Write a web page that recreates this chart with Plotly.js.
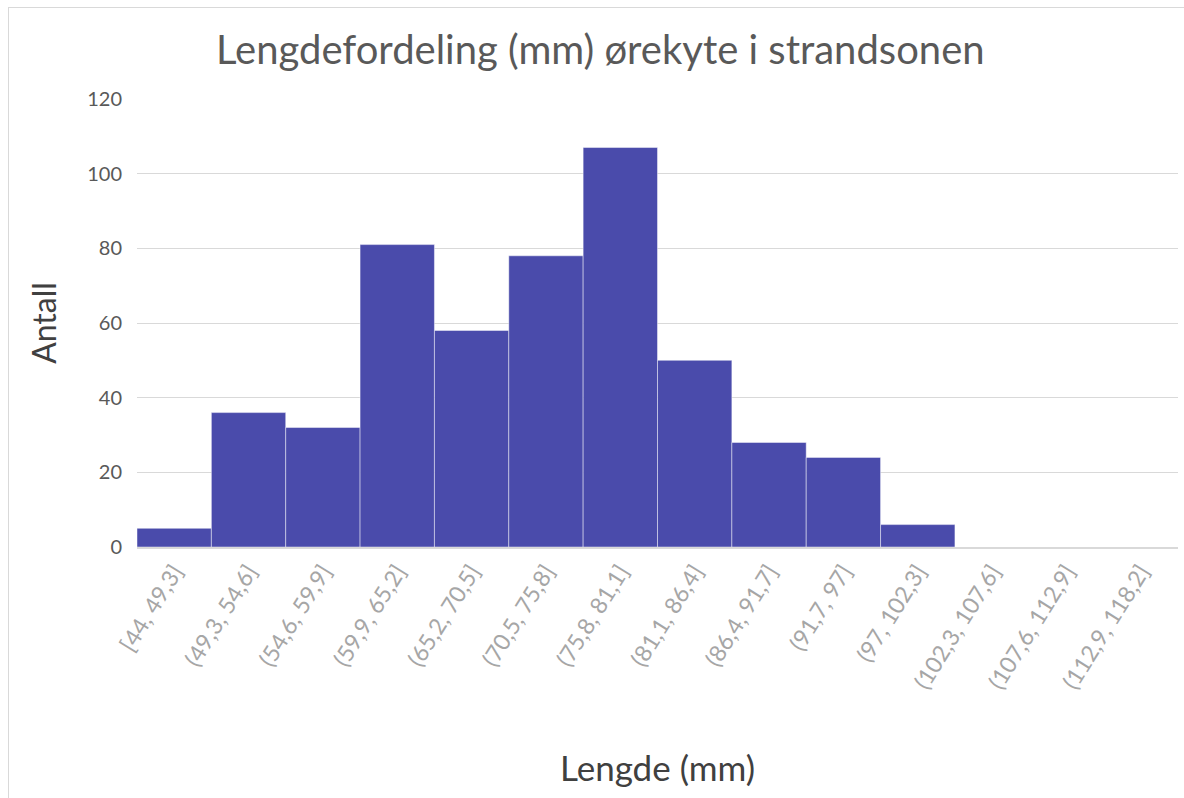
<!DOCTYPE html>
<html>
<head>
<meta charset="utf-8">
<script src="https://cdn.plot.ly/plotly-3.0.1.min.js"></script>
<style>
  html, body { margin: 0; padding: 0; background: #fff; }
  #wrap { position: relative; width: 1184px; height: 798px; }
  #chart { width: 1184px; height: 798px; }
  #frame { position: absolute; left: 8px; top: 7px; right: -2px; bottom: -2px;
           border-top: 1px solid #d9d9d9; border-left: 1px solid #d9d9d9; pointer-events: none; }
</style>
</head>
<body>
<div id="wrap">
  <div id="chart"></div>
  <div id="frame"></div>
</div>
<script>
const categories = [
  "[44, 49,3]", "(49,3, 54,6]", "(54,6, 59,9]", "(59,9, 65,2]", "(65,2, 70,5]",
  "(70,5, 75,8]", "(75,8, 81,1]", "(81,1, 86,4]", "(86,4, 91,7]", "(91,7, 97]",
  "(97, 102,3]", "(102,3, 107,6]", "(107,6, 112,9]", "(112,9, 118,2]"
];
const counts = [5, 36, 32, 81, 58, 78, 107, 50, 28, 24, 6, 0, 0, 0];
const yTicks = [0, 20, 40, 60, 80, 100, 120];

const font = "Lato, 'Open Sans', sans-serif";

Plotly.newPlot("chart", [{
  type: "bar",
  x: categories,
  y: counts,
  marker: { color: "#4a4bab", line: { color: "rgba(255,255,255,0.45)", width: 1 } },
  hoverinfo: "x+y"
}], {
  width: 1184, height: 798,
  margin: { l: 137, r: 6, t: 99, b: 251 },
  paper_bgcolor: "#ffffff", plot_bgcolor: "#ffffff",
  bargap: 0,
  showlegend: false,
  font: { family: font },
  title: {
    text: "Lengdefordeling (mm) ørekyte i strandsonen",
    font: { family: font, size: 40, color: "#595959" },
    x: 0.507, xanchor: "center", y: 0.937, yanchor: "middle"
  },
  xaxis: {
    type: "category",
    tickangle: -58,
    tickfont: { family: font, size: 23, color: "#a6a6a6" },
    showline: true, linecolor: "#d9d9d9", linewidth: 2,
    ticks: "", showgrid: false,
    title: { text: "Lengde (mm)", font: { family: font, size: 35, color: "#404040" }, standoff: 64 },
    automargin: false
  },
  yaxis: {
    range: [0, 120],
    tickvals: yTicks,
    tickfont: { family: font, size: 20, color: "#595959" },
    showgrid: true, gridcolor: "#d9d9d9", gridwidth: 1,
    zeroline: false, showline: false, ticks: "",
    ticklabelstandoff: 14,
    title: { text: "Antall", font: { family: font, size: 32, color: "#404040" }, standoff: 20 },
    automargin: false
  }
}, { displayModeBar: false, staticPlot: true });
</script>
</body>
</html>
